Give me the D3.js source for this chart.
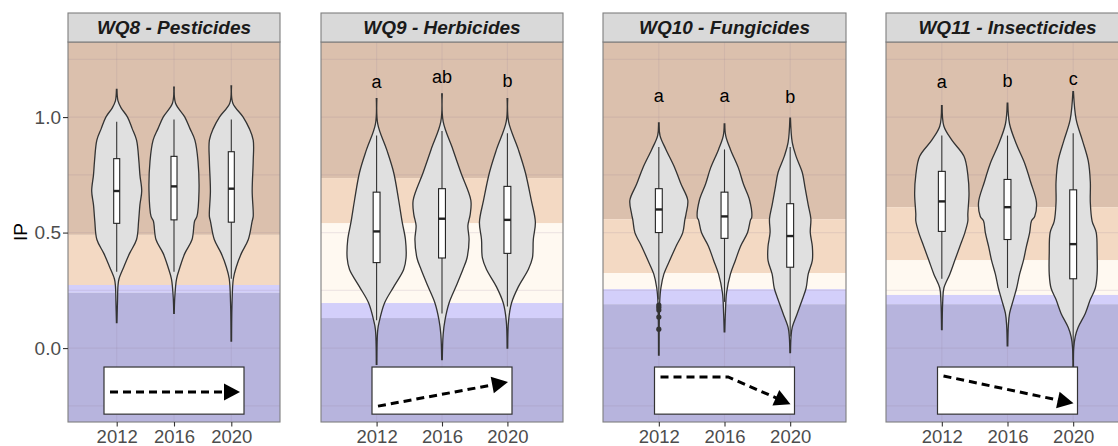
<!DOCTYPE html>
<html>
<head>
<meta charset="utf-8">
<script src="https://cdn.jsdelivr.net/npm/d3@7"></script>
<style>
  body { margin: 0; background: #fff; }
  text { font-family: "Liberation Sans", Arial, sans-serif; }
</style>
</head>
<body>
<div id="chart"></div>
<script>
var width = 1118, height = 446;

// ---- data ----
var years = ["2012", "2016", "2020"];
var titles = ["WQ8 - Pesticides", "WQ9 - Herbicides", "WQ10 - Fungicides", "WQ11 - Insecticides"];

// violin outlines: [IP, relative half width]
var wq8Violins = [
  [[0.11,0.01],[0.2,0.03],[0.27,0.05],[0.30,0.09],[0.35,0.27],[0.41,0.5],[0.47,0.77],[0.55,0.85],[0.62,0.9],[0.68,0.97],[0.75,0.9],[0.81,0.86],[0.9,0.77],[0.95,0.6],[1.0,0.42],[1.04,0.17],[1.07,0.05],[1.12,0.01]],
  [[0.15,0.01],[0.22,0.03],[0.30,0.1],[0.35,0.23],[0.41,0.42],[0.47,0.7],[0.55,0.8],[0.57,0.89],[0.68,0.97],[0.81,0.93],[0.9,0.81],[0.95,0.62],[1.0,0.42],[1.06,0.06],[1.13,0.01]],
  [[0.03,0.01],[0.2,0.03],[0.30,0.08],[0.35,0.19],[0.41,0.39],[0.47,0.66],[0.55,0.81],[0.57,0.85],[0.68,0.81],[0.81,0.85],[0.9,0.85],[0.95,0.7],[1.0,0.46],[1.06,0.06],[1.135,0.01]]
];
var wq9Violins = [
  [[-0.07,0.01],[0.08,0.04],[0.12,0.1],[0.195,0.27],[0.265,0.58],[0.34,0.92],[0.39,1.0],[0.47,0.98],[0.545,0.87],[0.64,0.75],[0.76,0.58],[0.86,0.34],[0.97,0.04],[1.08,0.01]],
  [[-0.05,0.01],[0.06,0.04],[0.12,0.1],[0.195,0.24],[0.265,0.47],[0.34,0.71],[0.39,0.85],[0.47,0.92],[0.53,0.88],[0.58,0.96],[0.64,0.98],[0.76,0.64],[0.86,0.37],[0.98,0.04],[1.10,0.01]],
  [[0.0,0.01],[0.12,0.04],[0.195,0.14],[0.265,0.37],[0.34,0.71],[0.39,0.85],[0.47,0.88],[0.545,0.95],[0.64,0.81],[0.76,0.61],[0.86,0.37],[0.98,0.04],[1.08,0.01]]
];
var wq10Violins = [
  [[-0.03,0.01],[0.2,0.03],[0.26,0.07],[0.32,0.17],[0.38,0.37],[0.44,0.58],[0.50,0.81],[0.555,0.88],[0.58,0.92],[0.64,0.98],[0.71,0.75],[0.78,0.54],[0.86,0.24],[0.92,0.04],[0.975,0.01]],
  [[0.07,0.01],[0.15,0.03],[0.24,0.07],[0.32,0.2],[0.38,0.37],[0.44,0.54],[0.50,0.78],[0.555,0.88],[0.565,0.92],[0.64,0.85],[0.71,0.64],[0.78,0.47],[0.86,0.2],[0.92,0.04],[0.97,0.01]],
  [[-0.02,0.01],[0.05,0.03],[0.09,0.07],[0.15,0.24],[0.21,0.41],[0.26,0.54],[0.32,0.61],[0.38,0.75],[0.44,0.75],[0.50,0.68],[0.56,0.7],[0.62,0.61],[0.69,0.51],[0.76,0.41],[0.83,0.2],[0.89,0.07],[0.995,0.01]]
];
var wq11Violins = [
  [[0.08,0.01],[0.2,0.03],[0.26,0.07],[0.32,0.27],[0.38,0.44],[0.44,0.61],[0.50,0.78],[0.55,0.88],[0.58,0.88],[0.67,0.92],[0.75,0.88],[0.83,0.75],[0.90,0.34],[0.96,0.07],[1.05,0.01]],
  [[0.01,0.01],[0.10,0.03],[0.15,0.07],[0.21,0.2],[0.26,0.31],[0.32,0.41],[0.38,0.54],[0.44,0.64],[0.50,0.75],[0.55,0.81],[0.57,0.92],[0.63,0.98],[0.72,0.78],[0.80,0.58],[0.88,0.31],[0.97,0.07],[1.06,0.01]],
  [[-0.09,0.01],[0.0,0.02],[0.05,0.07],[0.09,0.17],[0.15,0.41],[0.21,0.58],[0.26,0.75],[0.32,0.81],[0.41,0.81],[0.50,0.78],[0.55,0.64],[0.63,0.58],[0.72,0.58],[0.81,0.51],[0.90,0.31],[0.99,0.1],[1.11,0.01]]
];

// boxplots: [whisker low, q1, median, q3, whisker high]
var wq8Boxes  = [[0.33,0.54,0.68,0.82,0.98],[0.33,0.555,0.70,0.83,0.99],[0.30,0.545,0.69,0.85,0.99]];
var wq9Boxes  = [[0.12,0.37,0.505,0.675,0.92],[0.15,0.39,0.56,0.69,0.94],[0.18,0.41,0.555,0.70,0.93]];
var wq10Boxes = [[0.21,0.50,0.60,0.69,0.87],[0.20,0.475,0.57,0.675,0.86],[0.05,0.35,0.485,0.625,0.87]];
var wq11Boxes = [[0.30,0.505,0.635,0.765,0.92],[0.26,0.47,0.61,0.73,0.92],[-0.05,0.30,0.45,0.685,0.93]];

// outliers (WQ10, 2012)
var wq10Outliers2012 = [0.186, 0.177, 0.165, 0.134, 0.082];

// class limits (lower bound of brown, peach, cream, lilac bands)
var wq8Bands  = [0.49, 0.273, 0.273, 0.24];
var wq9Bands  = [0.736, 0.54, 0.195, 0.13];
var wq10Bands = [0.558, 0.325, 0.255, 0.19];
var wq11Bands = [0.61, 0.38, 0.23, 0.19];

// significance letters and their heights (IP)
var wq8Letters  = ["", "", ""];
var wq9Letters  = ["a", "ab", "b"];
var wq10Letters = ["a", "a", "b"];
var wq11Letters = ["a", "b", "c"];
var wq8LetterY  = [0, 0, 0];
var wq9LetterY  = [1.125, 1.147, 1.13];
var wq10LetterY = [1.065, 1.065, 1.06];
var wq11LetterY = [1.125, 1.13, 1.14];

// trend arrows inside the inset box: x and y as fractions of the box (y down)
var wq8TrendX  = [0, 1],       wq8TrendY  = [0.53, 0.53];
var wq9TrendX  = [0, 1],       wq9TrendY  = [0.83, 0.32];
var wq10TrendX = [0, 0.52, 1], wq10TrendY = [0.21, 0.21, 0.79];
var wq11TrendX = [0, 1],       wq11TrendY = [0.19, 0.77];

// ---- layout ----
var panelX = [[68, 280], [321, 563], [603, 846], [886, 1129]];
var plotTop = 42, plotBottom = 422;

var bandColors = ["#dbc0ad", "#f3d9c3", "#fff9f1", "#d3cffa", "#b7b4dd"];

var panels = titles.map(function(t, i) {
  return {
    title: t,
    x0: panelX[i][0], x1: panelX[i][1],
    violins: [wq8Violins, wq9Violins, wq10Violins, wq11Violins][i],
    boxes: [wq8Boxes, wq9Boxes, wq10Boxes, wq11Boxes][i],
    bands: [wq8Bands, wq9Bands, wq10Bands, wq11Bands][i],
    letters: [wq8Letters, wq9Letters, wq10Letters, wq11Letters][i],
    letterY: [wq8LetterY, wq9LetterY, wq10LetterY, wq11LetterY][i],
    trendX: [wq8TrendX, wq9TrendX, wq10TrendX, wq11TrendX][i],
    trendY: [wq8TrendY, wq9TrendY, wq10TrendY, wq11TrendY][i],
    outliers: i === 2 ? [wq10Outliers2012, [], []] : [[], [], []]
  };
});

var y = d3.scaleLinear().domain([-0.32, 1.325]).range([plotBottom, plotTop]);

var svg = d3.select("#chart").append("svg")
  .attr("width", width).attr("height", height)
  .style("background", "#fff");

panels.forEach(function(p, pi) {
  var x = d3.scalePoint().domain(years).range([p.x0, p.x1]).padding(0.85);
  var step = x.step();
  var maxHw = 0.45 * step;
  var g = svg.append("g");

  // background classes
  var lims = [y.domain()[1]].concat(p.bands).concat([y.domain()[0]]);
  for (var k = 0; k < 5; k++) {
    var hi = lims[k], lo = lims[k + 1];
    if (hi <= lo) continue;
    g.append("rect")
      .attr("x", p.x0).attr("width", p.x1 - p.x0)
      .attr("y", y(hi)).attr("height", y(lo) - y(hi))
      .attr("fill", bandColors[k]);
  }

  // grid
  var gridVals = [-0.25, 0, 0.25, 0.5, 0.75, 1.0, 1.25];
  g.selectAll(".hgrid").data(gridVals).enter().append("line")
    .attr("x1", p.x0).attr("x2", p.x1)
    .attr("y1", function(d) { return y(d); }).attr("y2", function(d) { return y(d); })
    .attr("stroke", "rgba(140,120,150,0.14)").attr("stroke-width", 1.1);
  g.selectAll(".vgrid").data(years).enter().append("line")
    .attr("x1", function(d) { return x(d); }).attr("x2", function(d) { return x(d); })
    .attr("y1", plotTop).attr("y2", plotBottom)
    .attr("stroke", "rgba(140,120,150,0.14)").attr("stroke-width", 1.1);

  // violins
  years.forEach(function(yr, j) {
    var cx = x(yr);
    var area = d3.area()
      .curve(d3.curveCatmullRom.alpha(0.5))
      .y(function(d) { return y(d[0]); })
      .x0(function(d) { return cx - d[1] * maxHw; })
      .x1(function(d) { return cx + d[1] * maxHw; });
    g.append("path")
      .datum(p.violins[j])
      .attr("d", area)
      .attr("fill", "#e0e0e0")
      .attr("stroke", "#333")
      .attr("stroke-width", 1.3);

    var b = p.boxes[j];
    var bw = 0.105 * step;
    g.append("line").attr("x1", cx).attr("x2", cx)
      .attr("y1", y(b[0])).attr("y2", y(b[4]))
      .attr("stroke", "#333").attr("stroke-width", 1.1);
    g.append("rect")
      .attr("x", cx - bw / 2).attr("width", bw)
      .attr("y", y(b[3])).attr("height", y(b[1]) - y(b[3]))
      .attr("fill", "#fff").attr("stroke", "#222").attr("stroke-width", 1.1);
    g.append("line").attr("x1", cx - bw / 2).attr("x2", cx + bw / 2)
      .attr("y1", y(b[2])).attr("y2", y(b[2]))
      .attr("stroke", "#222").attr("stroke-width", 2.4);

    g.selectAll(".out" + j).data(p.outliers[j]).enter().append("circle")
      .attr("cx", cx).attr("cy", function(d) { return y(d); })
      .attr("r", 2.6).attr("fill", "#333");

    if (p.letters[j]) {
      g.append("text")
        .attr("x", cx).attr("y", y(p.letterY[j]))
        .attr("text-anchor", "middle")
        .attr("font-size", 18).attr("fill", "#000")
        .text(p.letters[j]);
    }
  });

  // trend inset
  var cxm = x(years[1]);
  var boxTop = y(-0.082), boxBot = y(-0.286);
  g.append("rect")
    .attr("x", cxm - 70).attr("width", 140)
    .attr("y", boxTop).attr("height", boxBot - boxTop)
    .attr("fill", "#fff").attr("stroke", "#333").attr("stroke-width", 1.2);
  var tx = d3.scaleLinear().domain([0, 1]).range([cxm - 64, cxm + 66]);
  var ty = d3.scaleLinear().domain([0, 1]).range([boxTop, boxBot]);
  var pts = p.trendX.map(function(v, i) { return [tx(v), ty(p.trendY[i])]; });
  var last = pts[pts.length - 1], prev = pts[pts.length - 2];
  var ang = Math.atan2(last[1] - prev[1], last[0] - prev[0]);
  var headLen = 16, headW = 8.5;
  var lineEnd = [last[0] - Math.cos(ang) * (headLen - 2), last[1] - Math.sin(ang) * (headLen - 2)];
  var linePts = pts.slice(0, -1).concat([lineEnd]);
  g.append("path")
    .attr("d", d3.line()(linePts))
    .attr("fill", "none").attr("stroke", "#000")
    .attr("stroke-width", 3).attr("stroke-dasharray", "8,5");
  var bx = last[0] - Math.cos(ang) * headLen, by = last[1] - Math.sin(ang) * headLen;
  var nx = -Math.sin(ang), ny = Math.cos(ang);
  g.append("path")
    .attr("d", d3.line()([last, [bx + nx * headW, by + ny * headW], [bx - nx * headW, by - ny * headW]]) + "Z")
    .attr("fill", "#000");

  // panel border
  g.append("rect")
    .attr("x", p.x0).attr("y", plotTop).attr("width", p.x1 - p.x0).attr("height", plotBottom - plotTop)
    .attr("fill", "none").attr("stroke", "#7f7f7f").attr("stroke-width", 1.1);

  // strip
  g.append("rect")
    .attr("x", p.x0).attr("y", 13).attr("width", p.x1 - p.x0).attr("height", plotTop - 13)
    .attr("fill", "#d9d9d9").attr("stroke", "#7f7f7f").attr("stroke-width", 1.1);
  g.append("text")
    .attr("x", (p.x0 + p.x1) / 2).attr("y", 34.2)
    .attr("text-anchor", "middle")
    .attr("font-size", 19).attr("font-weight", "bold").attr("font-style", "italic")
    .attr("fill", "#1a1a1a")
    .text(p.title);

  // x axis
  var xa = svg.append("g")
    .attr("transform", "translate(0," + plotBottom + ")")
    .call(d3.axisBottom(x).tickSize(4.5).tickPadding(3.5));
  xa.select(".domain").remove();
  xa.selectAll("line").attr("stroke", "#333").attr("stroke-width", 1.1);
  xa.selectAll("text").attr("font-size", 18.5).attr("fill", "#4d4d4d")
    .attr("font-family", "Liberation Sans, Arial, sans-serif");

  // y axis (first panel only)
  if (pi === 0) {
    var ya = svg.append("g")
      .attr("transform", "translate(" + p.x0 + ",0)")
      .call(d3.axisLeft(y).tickValues([0, 0.5, 1.0]).tickFormat(d3.format(".1f")).tickSize(5).tickPadding(2));
    ya.select(".domain").remove();
    ya.selectAll("line").attr("stroke", "#333").attr("stroke-width", 1.1);
    ya.selectAll("text").attr("font-size", 19).attr("fill", "#4d4d4d")
      .attr("font-family", "Liberation Sans, Arial, sans-serif");
  }
});

svg.append("text")
  .attr("transform", "translate(27," + ((plotTop + plotBottom) / 2) + ") rotate(-90)")
  .attr("text-anchor", "middle")
  .attr("font-size", 19).attr("fill", "#000")
  .text("IP");
</script>
</body>
</html>
